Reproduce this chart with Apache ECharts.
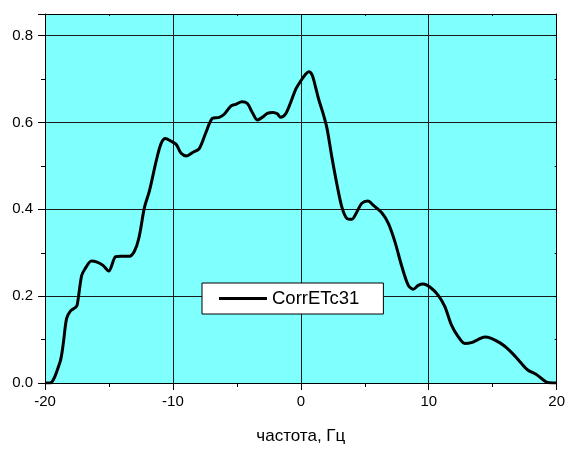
<!DOCTYPE html>
<html>
<head>
<meta charset="utf-8">
<script src="https://cdn.jsdelivr.net/npm/echarts@6/dist/echarts.min.js"></script>
<style>
  html, body { margin: 0; padding: 0; background: #fff; }
  #chart { width: 568px; height: 450px; }
</style>
</head>
<body>
<div id="chart"></div>
<script>
// Frequency axis values (Hz)
const freq = [
  -20, -19.61, -18.83, -18.58, -18.31, -18.00, -17.67, -17.49, -17.14, -16.89,
  -16.37, -15.98, -15.46, -15.02, -14.47, -14.03, -13.39, -13.00, -12.66, -12.22,
  -11.83, -11.31, -10.92, -10.58, -10.14, -9.75, -9.36, -8.93, -8.46, -7.94,
  -7.42, -6.90, -6.38, -5.99, -5.47, -5.08, -4.61, -4.18, -3.79, -3.40,
  -3.01, -2.62, -2.18, -1.84, -1.58, -1.19, -0.80, -0.41, -0.02, 0.37,
  0.62, 0.88, 1.14, 1.40, 1.79, 2.05, 2.44, 2.82, 3.21, 3.60,
  3.99, 4.38, 4.77, 5.24, 5.68, 6.33, 6.85, 7.37, 7.88, 8.40,
  8.79, 9.18, 9.57, 10.09, 10.74, 11.26, 11.77, 12.30, 12.82, 13.33,
  13.85, 14.37, 14.89, 15.54, 16.05, 16.71, 17.22, 17.74, 18.39, 18.91,
  19.30, 19.95
];

// CorrETc31 values
const corrETc31 = [
  0, 0, 0.048, 0.089, 0.149, 0.166, 0.173, 0.179, 0.247, 0.262,
  0.281, 0.279, 0.271, 0.258, 0.291, 0.292, 0.292, 0.304, 0.334, 0.405,
  0.443, 0.511, 0.552, 0.563, 0.557, 0.550, 0.529, 0.523, 0.531, 0.540,
  0.577, 0.610, 0.612, 0.619, 0.638, 0.642, 0.648, 0.644, 0.623, 0.606,
  0.612, 0.621, 0.623, 0.620, 0.612, 0.620, 0.646, 0.676, 0.695, 0.711,
  0.717, 0.710, 0.683, 0.653, 0.616, 0.586, 0.518, 0.458, 0.405, 0.379,
  0.377, 0.394, 0.414, 0.419, 0.409, 0.392, 0.367, 0.324, 0.270, 0.225,
  0.216, 0.225, 0.228, 0.221, 0.202, 0.176, 0.134, 0.107, 0.091, 0.093,
  0.100, 0.106, 0.103, 0.093, 0.082, 0.063, 0.046, 0.030, 0.020, 0.008,
  0.001, 0
];

const seriesName = 'CorrETc31';
const xTitle = 'частота, Гц';

const points = freq.map((f, i) => [f, corrETc31[i]]);

const FONT = 'Arial, "Liberation Sans", sans-serif';
const chart = echarts.init(document.getElementById('chart'));

const frameAxisX = {
  type: 'value', min: -20, max: 20, interval: 10,
  axisLine: { show: true, onZero: false, lineStyle: { color: '#000', width: 1 } },
  splitLine: { show: false }
};
const frameAxisY = {
  type: 'value', min: 0, max: 0.85, interval: 0.2,
  axisLine: { show: true, onZero: false, lineStyle: { color: '#000', width: 1 } },
  splitLine: { show: false }
};

chart.setOption({
  backgroundColor: '#ffffff',
  animation: false,
  grid: {
    left: 45, top: 14, width: 514, height: 376,
    show: true, backgroundColor: '#80ffff', borderWidth: 0
  },
  legend: {
    left: 202, top: 283,
    padding: [6, 24, 6, 17],
    backgroundColor: '#ffffff',
    borderColor: '#000', borderWidth: 1,
    itemWidth: 48, itemHeight: 3, itemGap: 6,
    icon: 'rect',
    textStyle: { fontFamily: FONT, fontSize: 18.5, color: '#000', padding: [0, 0, 0, 0] },
    data: [seriesName]
  },
  xAxis: [
    Object.assign({}, frameAxisX, {
      position: 'bottom',
      name: xTitle, nameLocation: 'middle', nameGap: 45,
      nameTextStyle: { fontFamily: FONT, fontSize: 17, color: '#000' },
      axisTick: { show: true, inside: false, length: 7, lineStyle: { color: '#000' } },
      minorTick: { show: true, splitNumber: 2, length: 4, lineStyle: { color: '#000' } },
      axisLabel: { margin: 11, fontFamily: FONT, fontSize: 15, color: '#000' },
      splitLine: { show: true, lineStyle: { color: '#1a1a1a', width: 1 } }
    }),
    Object.assign({}, frameAxisX, {
      position: 'top',
      axisTick: { show: true, inside: true, length: 3, lineStyle: { color: '#000' } },
      minorTick: { show: true, splitNumber: 2, length: 2, lineStyle: { color: '#000' } },
      axisLabel: { show: false }
    })
  ],
  yAxis: [
    Object.assign({}, frameAxisY, {
      position: 'left',
      axisTick: { show: true, inside: false, length: 7, lineStyle: { color: '#000' } },
      minorTick: { show: true, splitNumber: 2, length: 4, lineStyle: { color: '#000' } },
      axisLabel: {
        margin: 12, fontFamily: FONT, fontSize: 15, color: '#000',
        showMaxLabel: false,
        formatter: v => v.toFixed(1)
      },
      splitLine: { show: true, showMaxLine: false, lineStyle: { color: '#1a1a1a', width: 1 } }
    }),
    Object.assign({}, frameAxisY, {
      position: 'right',
      axisTick: { show: true, inside: true, length: 3, lineStyle: { color: '#000' } },
      minorTick: { show: true, splitNumber: 2, length: 2, lineStyle: { color: '#000' } },
      axisLabel: { show: false }
    })
  ],
  series: [{
    name: seriesName,
    type: 'line',
    xAxisIndex: 0, yAxisIndex: 0,
    data: points,
    smooth: 0.3,
    showSymbol: false,
    symbol: 'none',
    itemStyle: { color: '#000' },
    lineStyle: { color: '#000', width: 3 },
    z: 5
  }]
});
</script>
</body>
</html>
